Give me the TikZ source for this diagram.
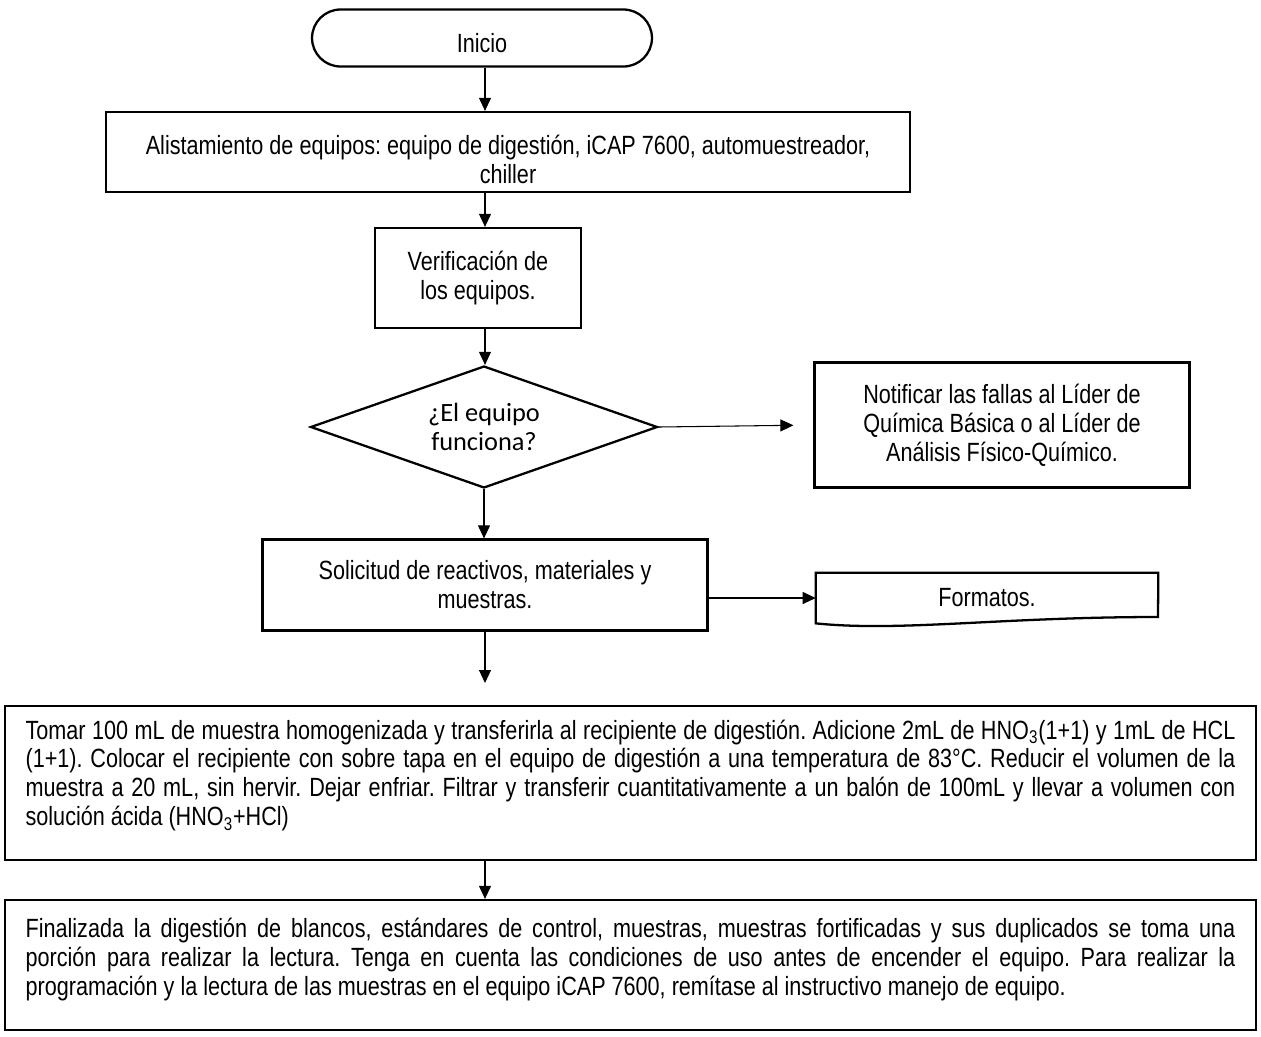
\documentclass[tikz,border=0pt]{standalone}
\usepackage{fontspec}
\setmainfont{Liberation Sans}[FakeStretch=0.82]
\newfontfamily\calibri{Carlito}
\usetikzlibrary{positioning,arrows.meta,shapes.geometric,calc}
\frenchspacing
\newcommand\holgura[1]{\par\nointerlineskip\vskip#1\hbox{}}

\begin{document}
\begin{tikzpicture}[x=0.02cm,y=-0.02cm,
  font=\fontsize{15}{16.5}\selectfont,
  caja/.style={draw,line width=1.3pt,align=center,inner sep=0pt},
  flecha/.style={-{Triangle[length=0.26cm,width=0.24cm]},line width=0.6pt}]
  \useasboundingbox (0,0) rectangle (1261,1036);
  \coordinate (eje) at (485,0);
  % upper part of the chart
  \node[caja,rounded corners=0.57cm,minimum width=6.8cm,minimum height=1.14cm] (inicio) at (482,38) {\rule{0pt}{17pt}Inicio};
  \node[caja,minimum width=16.08cm,minimum height=1.6cm] (alist) at (508,152) {\rule{0pt}{19pt}Alistamiento de equipos: equipo de digestión, iCAP 7600, automuestreador,\\chiller};
  \node[caja,minimum width=4.12cm,minimum height=2cm] (verif) at (478,278) {Verificación de\\los equipos.};
  \node[caja,diamond,aspect=2.84,minimum width=6.94cm,minimum height=2.44cm,font=\calibri\fontsize{15}{16.5}\selectfont] (decis) at (484,427) {¿El equipo\\funciona?};
  \node[caja,minimum width=7.5cm,minimum height=2.5cm] (notif) at (1002,425) {Notificar las fallas al Líder de\\Química Básica o al Líder de\\Análisis Físico-Químico.};
  \node[caja,minimum width=8.9cm,minimum height=1.82cm] (solic) at (485,585) {Solicitud de reactivos, materiales y\\muestras.};
  \node[minimum width=6.84cm,minimum height=1cm,inner sep=0pt] (fmt) at (987,598) {Formatos.};
  \draw[line width=1.3pt] (fmt.north west) -- (fmt.north east) -- (1158,617) .. controls (1000,617) and (900,632) .. (fmt.south west) -- cycle;
  \coordinate (fin) at (485,683);
  % lower part
  \node[caja,align=justify,text width=24.2cm,minimum width=25.02cm,minimum height=3.08cm] (paso1) at (630.5,783) {Tomar 100 mL de muestra homogenizada y transferirla al recipiente de digestión. Adicione 2mL de HNO\textsubscript{3}(1+1) y 1mL de HCL\linebreak (1+1). Colocar el recipiente con sobre tapa en el equipo de digestión a una temperatura de 83°C. Reducir el volumen de la\linebreak muestra a 20 mL, sin hervir. Dejar enfriar. Filtrar y transferir cuantitativamente a un balón de 100mL y llevar a volumen con\linebreak solución ácida (HNO\textsubscript{3}+HCl)\holgura{0.3cm}};
  \node[caja,align=justify,text width=24.2cm,minimum width=25.02cm,minimum height=2.6cm] (paso2) at (630.5,965) {Finalizada la digestión de blancos, estándares de control, muestras, muestras fortificadas y sus duplicados se toma una\linebreak porción para realizar la lectura. Tenga en cuenta las condiciones de uso antes de encender el equipo. Para realizar la\linebreak programación y la lectura de las muestras en el equipo iCAP 7600, remítase al instructivo manejo de equipo.\holgura{0.2cm}};
  % connectors
  \draw[flecha] (inicio.south -| eje) -- (alist.north -| eje);
  \draw[flecha] (alist.south -| eje) -- (verif.north -| eje);
  \draw[flecha] (verif.south -| eje) -- (decis.north -| eje);
  \draw[flecha,shorten >=0.4cm] (decis.east) -- (notif.west);
  \draw[flecha] (decis.south) -- (solic.north -| decis.south);
  \draw[flecha] (solic.east |- fmt.west) -- (fmt.west);
  \draw[flecha] (solic.south -| eje) -- (fin);
  \draw[flecha] (paso1.south -| eje) -- (paso2.north -| eje);
\end{tikzpicture}
\end{document}
